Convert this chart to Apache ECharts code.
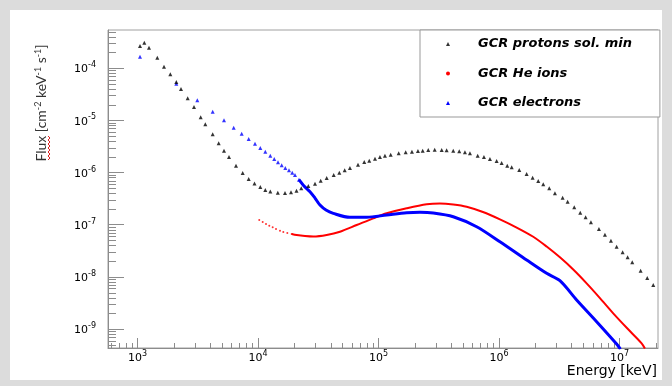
<!DOCTYPE html>
<html>
<head>
<meta charset="utf-8">
<script src="https://cdn.jsdelivr.net/npm/echarts@6/dist/echarts.min.js"></script>
<style>
  html, body { margin: 0; padding: 0; background: #dcdcdc; }
  #chart { width: 672px; height: 386px; }
</style>
</head>
<body>
<div id="chart"></div>
<script>
// energies in keV, fluxes in cm-2 keV-1 s-1
var protonE = [1049, 1139, 1246, 1460, 1659, 1872, 2099, 2296, 2610, 2943,
  3346, 3654, 4208, 4720, 5222, 5744, 6569, 7464, 8373, 9354,
  10450, 11500, 12650, 14600, 16750, 18790, 20870, 22870, 26150, 29720,
  33140, 37170, 42480, 47290, 52430, 58000, 67600, 76240, 83880, 93540,
  102900, 113200, 126300, 147100, 168200, 189700, 212700, 232700, 259000, 292700,
  334600, 368100, 417600, 468300, 522200, 574500, 665800, 750800, 842000, 957000,
  1.053e6, 1.172e6, 1.275e6, 1.474e6, 1.698e6, 1.904e6, 2.119e6, 2.331e6, 2.615e6, 2.915e6,
  3.378e6, 3.716e6, 4.216e6, 4.727e6, 5.243e6, 5.8e6, 6.76e6, 7.58e6, 8.5e6, 9.48e6,
  1.063e7, 1.17e7, 1.277e7, 1.499e7, 1.701e7, 1.908e7];
var protonF = [2.64e-4, 3.05e-4, 2.45e-4, 1.575e-4, 1.059e-4, 7.57e-5, 5.39e-5, 3.96e-5, 2.63e-5, 1.79e-5,
  1.137e-5, 8.35e-6, 5.37e-6, 3.61e-6, 2.60e-6, 1.97e-6, 1.344e-6, 9.74e-7, 7.47e-7, 6.13e-7,
  5.25e-7, 4.60e-7, 4.31e-7, 4.07e-7, 4.03e-7, 4.17e-7, 4.46e-7, 4.96e-7, 5.49e-7, 6.07e-7,
  6.93e-7, 7.81e-7, 8.92e-7, 9.87e-7, 1.097e-6, 1.214e-6, 1.405e-6, 1.582e-6, 1.675e-6, 1.83e-6,
  1.97e-6, 2.09e-6, 2.18e-6, 2.32e-6, 2.43e-6, 2.49e-6, 2.57e-6, 2.60e-6, 2.69e-6, 2.72e-6,
  2.69e-6, 2.65e-6, 2.60e-6, 2.54e-6, 2.43e-6, 2.32e-6, 2.09e-6, 1.97e-6, 1.806e-6, 1.654e-6,
  1.514e-6, 1.344e-6, 1.252e-6, 1.112e-6, 9.32e-7, 7.91e-7, 6.84e-7, 5.92e-7, 4.96e-7, 3.98e-7,
  3.28e-7, 2.75e-7, 2.145e-7, 1.69e-7, 1.38e-7, 1.107e-7, 8.24e-8, 6.40e-8, 4.91e-8, 3.77e-8,
  2.95e-8, 2.36e-8, 1.90e-8, 1.31e-8, 9.48e-9, 6.97e-9];

var heDotE = [10250, 10940, 11650, 12410, 13240, 14110, 15230, 16220, 17510, 19040];
var heDotF = [1.225e-7, 1.121e-7, 1.027e-7, 9.53e-8, 8.88e-8, 8.24e-8, 7.64e-8, 7.22e-8, 6.90e-8, 6.61e-8];
var heLineE = [19040, 20950, 24550, 28770, 37170, 47930, 65940, 90540, 117000, 171400, 251200,
  323800, 417600, 539500, 736700, 1.019e6, 1.403e6, 1.926e6, 2.488e6, 3.208e6, 4.136e6,
  5.343e6, 6.89e6, 8.883e6, 1.165e7, 1.529e7, 1.628e7];
var heLineF = [6.61e-8, 6.32e-8, 6.05e-8, 5.92e-8, 6.32e-8, 7.31e-8, 9.82e-8, 1.32e-7, 1.646e-7, 2.05e-7, 2.45e-7,
  2.54e-7, 2.43e-7, 2.20e-7, 1.743e-7, 1.263e-7, 8.80e-8, 5.86e-8, 3.80e-8, 2.36e-8, 1.38e-8,
  7.50e-9, 3.92e-9, 2.00e-9, 1.022e-9, 5.32e-10, 4.23e-10];

var elecDotE = [1049, 2099, 3135, 4208, 5222, 6284, 7323, 8373, 9443, 10450,
  11500, 12650, 13650, 14660, 15730, 16850, 18080, 19260, 20290, 21890];
var elecDotF = [1.646e-4, 5.00e-5, 2.41e-5, 1.455e-5, 9.96e-6, 7.18e-6, 5.51e-6, 4.36e-6, 3.55e-6, 2.93e-6,
  2.49e-6, 2.09e-6, 1.806e-6, 1.561e-6, 1.368e-6, 1.214e-6, 1.097e-6, 9.87e-7, 8.92e-7, 7.25e-7];
var elecLineE = [21890, 24080, 27010, 29720, 32700, 36670, 42160, 58000, 79830, 117000,
  171400, 221000, 285000, 417600, 653000, 1.019e6, 1.698e6, 2.488e6, 3.208e6, 4.414e6,
  6.47e6, 9.48e6, 1.019e7];
var elecLineF = [7.25e-7, 5.49e-7, 4.27e-7, 3.23e-7, 2.37e-7, 1.905e-7, 1.646e-7, 1.38e-7, 1.38e-7, 1.527e-7,
  1.69e-7, 1.72e-7, 1.668e-7, 1.417e-7, 9.12e-8, 4.70e-8, 2.10e-8, 1.167e-8, 8.42e-9, 3.59e-9,
  1.38e-9, 5.16e-10, 4.14e-10];

var seriesNames = ['GCR protons sol. min', 'GCR He ions', 'GCR electrons'];

// axis ranges and decades
var X_MIN = 569, X_MAX = 2.09e7;
var Y_MIN = 4.33e-10, Y_MAX = 5.35e-4;
var minorMant = [2, 3, 4, 5, 6, 7, 8, 9];
var xDecades = [2, 3, 4, 5, 6, 7];
var yDecades = [-10, -9, -8, -7, -6, -5, -4];

function zip(a, b) {
  return a.map(function (v, i) { return [v, b[i]]; });
}

function minorTicks(decades, lo, hi) {
  var out = [];
  decades.forEach(function (d) {
    minorMant.forEach(function (m) {
      var v = m * Math.pow(10, d);
      if (v > lo && v < hi) out.push(v);
    });
  });
  return out;
}

var xMinor = minorTicks(xDecades, X_MIN, X_MAX);
var yMinor = minorTicks(yDecades, Y_MIN, Y_MAX);

var tickColor = '#8c8c8c';
var labelFont = 'DejaVu Sans';

function powLabel(v) {
  var l = Math.log10(v);
  var e = Math.round(l);
  if (Math.abs(l - e) > 1e-6) return '';
  return '{b|10}{s|' + e + '}';
}

var labelRich = {
  b: { fontSize: 11, fontFamily: labelFont, color: '#000', verticalAlign: 'bottom' },
  s: { fontSize: 8, fontFamily: labelFont, color: '#000', verticalAlign: 'bottom', padding: [0, 0, 6, 0] }
};

var chart = echarts.init(document.getElementById('chart'));

var option = {
  backgroundColor: '#dcdcdc',
  animation: false,
  graphic: [
    { type: 'rect', z: -100, silent: true,
      shape: { x: 10, y: 10, width: 652, height: 370 },
      style: { fill: '#ffffff' } },
    { type: 'text', x: 41, y: 103, rotation: Math.PI / 2, silent: true,
      style: {
        text: 'Flux [cm{s|-2} keV{s|-1} s{s|-1}]',
        fill: '#333', font: '14px Lato', align: 'center', verticalAlign: 'middle',
        rich: {
          s: { fontSize: 9, fontFamily: 'Lato', fill: '#333', padding: [0, 0, 6, 0] }
        }
      } },
    // spell-check underline under "Flux"
    { type: 'polyline', silent: true,
      shape: { points: [[48, 160], [50, 158], [48, 156], [50, 154], [48, 152], [50, 150], [48, 148],
        [50, 146], [48, 144], [50, 142], [48, 140], [50, 138], [48, 136]] },
      style: { stroke: '#e02020', lineWidth: 1, fill: null } },
    { type: 'text', x: 657, y: 364, silent: true,
      style: { text: 'Energy [keV]', fill: '#000', font: '14px "DejaVu Sans"', align: 'right', verticalAlign: 'top' } }
  ],
  legend: {
    orient: 'vertical',
    left: 420,
    top: 30,
    itemWidth: 4,
    itemHeight: 4,
    itemGap: 13.5,
    padding: [6, 28, 6, 26],
    borderColor: '#999',
    borderWidth: 1,
    backgroundColor: '#fff',
    textStyle: {
      fontFamily: labelFont, fontStyle: 'italic', fontWeight: 'bold',
      fontSize: 13, color: '#000', lineHeight: 16, padding: [0, 0, 0, 23]
    },
    data: [
      { name: seriesNames[0], icon: 'triangle' },
      { name: seriesNames[1], icon: 'circle' },
      { name: seriesNames[2], icon: 'triangle' }
    ]
  },
  grid: {
    left: 108, top: 30, right: 14, bottom: 38,
    show: true, borderColor: '#a0a0a0', borderWidth: 1, backgroundColor: '#fff'
  },
  xAxis: {
    type: 'log', logBase: 10, min: X_MIN, max: X_MAX,
    axisLine: { lineStyle: { color: tickColor } },
    axisTick: { inside: true, length: 10, lineStyle: { color: tickColor } },
    axisLabel: { margin: 2, formatter: powLabel, rich: labelRich, showMinLabel: false, showMaxLabel: false },
    splitLine: { show: false }
  },
  yAxis: {
    type: 'log', logBase: 10, min: Y_MIN, max: Y_MAX,
    axisLine: { show: true, lineStyle: { color: tickColor } },
    axisTick: { show: true, inside: true, length: 16, lineStyle: { color: tickColor } },
    axisLabel: { margin: 12, formatter: powLabel, rich: labelRich, showMinLabel: false, showMaxLabel: false },
    splitLine: { show: false }
  },
  series: [
    {
      type: 'custom', silent: true, z: 1,
      data: xMinor.map(function (v) { return [v, Y_MIN]; }),
      renderItem: function (params, api) {
        var p = api.coord([api.value(0), api.value(1)]);
        var x = Math.round(p[0]) + 0.5;
        return { type: 'line', shape: { x1: x, y1: p[1], x2: x, y2: p[1] - 5 },
          style: { stroke: tickColor, lineWidth: 1 } };
      }
    },
    {
      type: 'custom', silent: true, z: 1,
      data: yMinor.map(function (v) { return [X_MIN, v]; }),
      renderItem: function (params, api) {
        var p = api.coord([api.value(0), api.value(1)]);
        var y = Math.round(p[1]) + 0.5;
        return { type: 'line', shape: { x1: p[0], y1: y, x2: p[0] + 8, y2: y },
          style: { stroke: tickColor, lineWidth: 1 } };
      }
    },
    {
      name: seriesNames[1], type: 'line', data: zip(heLineE, heLineF),
      showSymbol: false, smooth: 0.3, z: 3,
      itemStyle: { color: '#ff0000' },
      lineStyle: { color: '#ff0000', width: 2 }
    },
    {
      name: seriesNames[1], type: 'scatter', data: zip(heDotE, heDotF),
      symbol: 'circle', symbolSize: 2, z: 3,
      itemStyle: { color: '#ff0000' }
    },
    {
      name: seriesNames[2], type: 'line', data: zip(elecLineE, elecLineF),
      showSymbol: false, smooth: 0.3, z: 4,
      itemStyle: { color: '#0000ff' },
      lineStyle: { color: '#0000ff', width: 3 }
    },
    {
      name: seriesNames[2], type: 'scatter', data: zip(elecDotE, elecDotF),
      symbol: 'triangle', symbolSize: 4, z: 4,
      itemStyle: { color: '#0000ff' }
    },
    {
      name: seriesNames[0], type: 'scatter', data: zip(protonE, protonF),
      symbol: 'triangle', symbolSize: 4, z: 5,
      itemStyle: { color: '#000000' }
    }
  ]
};

chart.setOption(option);
</script>
</body>
</html>
